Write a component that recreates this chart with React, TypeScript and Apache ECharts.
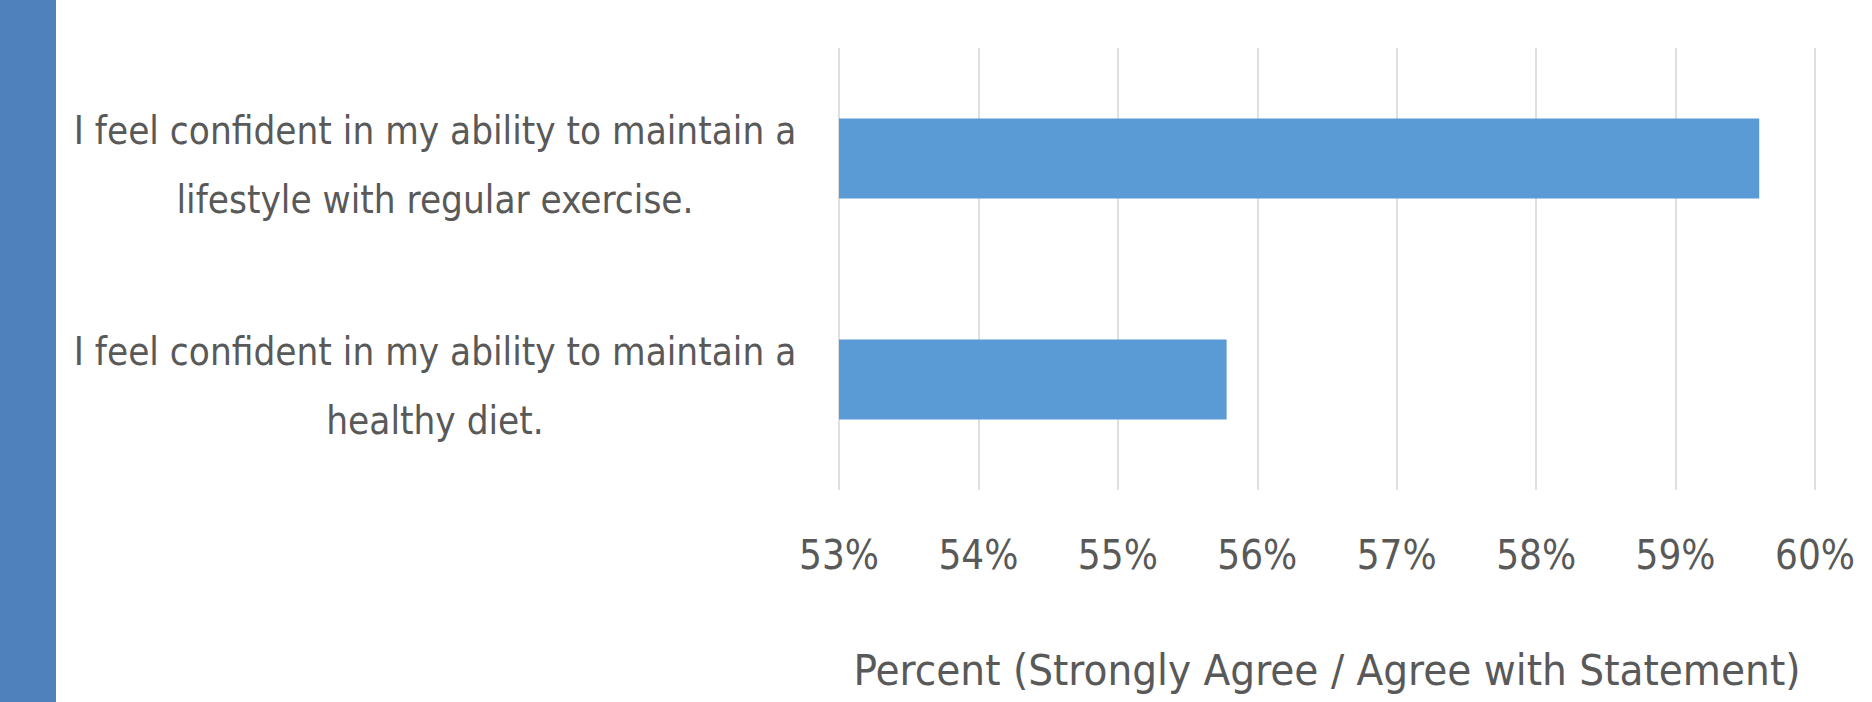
import React, { useEffect, useRef } from "react";
import * as echarts from "echarts";

const categories: string[] = [
  "I feel confident in my ability to maintain a\nlifestyle with regular exercise.",
  "I feel confident in my ability to maintain a\nhealthy diet.",
];
const values: number[] = [59.6, 55.78];
const axisMin = 53;
const axisMax = 60;
const axisStep = 1;
const axisTitle = "Percent (Strongly Agree / Agree with Statement)";

const FONT = "'Liberation Sans Narrow', 'DejaVu Sans Condensed', 'Roboto Condensed', 'Open Sans', sans-serif";
const TEXT = "#595959";

export default function App() {
  const ref = useRef<HTMLDivElement>(null);
  useEffect(() => {
    document.body.style.margin = "0";
    const chart = echarts.init(ref.current!, null, { renderer: "svg" });
    const lineStyle = (lh: number) => ({
      color: TEXT,
      fontFamily: FONT,
      fontSize: 38.3,
      lineHeight: lh,
      align: "center",
    });
    chart.setOption({
      animation: false,
      backgroundColor: "#ffffff",
      grid: { left: 839, right: 57, top: 48, bottom: 212, containLabel: false },
      graphic: [
        { type: "rect", left: 0, top: 0, shape: { width: 56, height: 702 }, style: { fill: "#4F81BD" } },
      ],
      xAxis: {
        type: "value",
        min: axisMin,
        max: axisMax,
        interval: axisStep,
        axisLine: { show: false },
        axisTick: { show: false },
        splitLine: { show: true, lineStyle: { color: "#d4d4d4", width: 1.5 } },
        axisLabel: {
          formatter: "{value}%",
          color: TEXT,
          fontFamily: FONT,
          fontSize: 40,
          lineHeight: 40,
          margin: 45,
        },
        name: axisTitle,
        nameLocation: "middle",
        nameGap: 158,
        nameTextStyle: { color: TEXT, fontFamily: FONT, fontSize: 43.5, lineHeight: 43 },
      },
      yAxis: {
        type: "category",
        data: categories,
        inverse: true,
        axisLine: { show: false },
        axisTick: { show: false },
        splitLine: { show: false },
        axisLabel: {
          align: "center",
          margin: 404,
          color: TEXT,
          fontFamily: FONT,
          fontSize: 38.3,
          formatter: (v: string) => {
            const parts = v.split("\n");
            return `{a|${parts[0]}}\n{b|${parts[1] || ""}}`;
          },
          rich: {
            a: lineStyle(82),
            b: lineStyle(56),
          },
        },
      },
      series: [
        {
          type: "bar",
          data: values,
          barWidth: 80,
          itemStyle: { color: "#5B9BD5" },
        },
      ],
    });
    return () => chart.dispose();
  }, []);
  return <div ref={ref} style={{ width: 1872, height: 702 }} />;
}
